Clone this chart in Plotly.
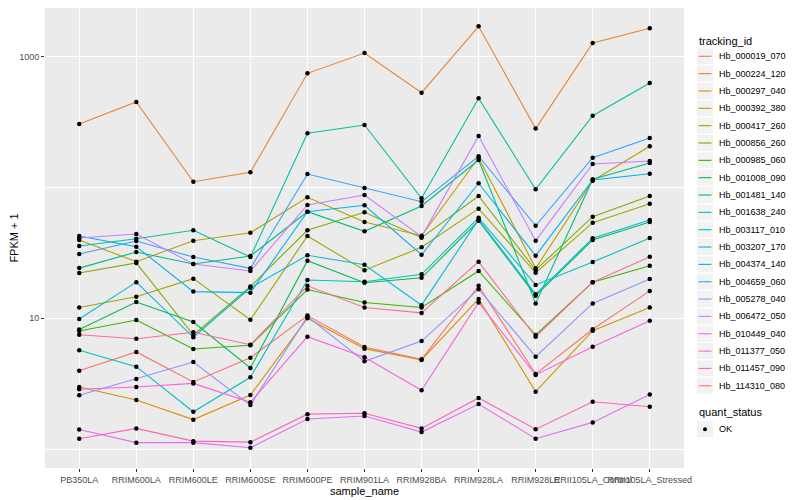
import plotly.graph_objects as go

samples = ["PB350LA", "RRIM600LA", "RRIM600LE", "RRIM600SE", "RRIM600PE", "RRIM901LA",
           "RRIM928BA", "RRIM928LA", "RRIM928LE", "RRII105LA_Control", "RRII105LA_Stressed"]

tracking_ids = ["Hb_000019_070", "Hb_000224_120", "Hb_000297_040", "Hb_000392_380", "Hb_000417_260",
                "Hb_000856_260", "Hb_000985_060", "Hb_001008_090", "Hb_001481_140", "Hb_001638_240",
                "Hb_003117_010", "Hb_003207_170", "Hb_004374_140", "Hb_004659_060", "Hb_005278_040",
                "Hb_006472_050", "Hb_010449_040", "Hb_011377_050", "Hb_011457_090", "Hb_114310_080"]

colors = ["#F8766D", "#EA8331", "#D89000", "#C09B00", "#A3A500", "#7CAE00", "#39B600", "#00BB4E",
          "#00BF7D", "#00C1A3", "#00BFC4", "#00BAE0", "#00B0F6", "#35A2FF", "#9590FF", "#C77CFF",
          "#E76BF3", "#FA62DB", "#FF62BC", "#FF6C91"]

# FPKM + 1 values per tracking id (one value per sample)
Hb_000019_070 = [3.97, 5.53, 3.26, 5.00, 10.5, 6.04, 4.86, 17.7, 3.75, 8.24, 16.2]
Hb_000224_120 = [306, 451, 110.7, 130.7, 746, 1067, 531, 1706, 282, 1273, 1648]
Hb_000297_040 = [2.98, 2.37, 1.68, 2.59, 10.0, 5.86, 4.80, 14.05, 2.75, 8.04, 12.1]
Hb_000392_380 = [39.7, 27.1, 39.2, 45.1, 84.1, 54.5, 42.8, 169, 24.1, 112.7, 206.5]
Hb_000417_260 = [12.1, 14.6, 20.1, 9.75, 42.6, 23.3, 34.9, 68.9, 22.3, 53.8, 75.2]
Hb_000856_260 = [22.2, 26.5, 7.45, 17.5, 47.1, 64.6, 41.3, 86.1, 23.4, 59.8, 86.1]
Hb_000985_060 = [8.0, 9.7, 5.82, 6.22, 16.6, 13.2, 12.1, 23.0, 7.45, 18.9, 25.2]
Hb_001008_090 = [8.2, 13.3, 9.37, 4.17, 27.6, 18.7, 20.4, 55.7, 14.9, 39.7, 54.5]
Hb_001481_140 = [24.2, 32.1, 26.0, 29.9, 65.3, 46.2, 72.2, 162.3, 13.0, 115.5, 153.9]
Hb_001638_240 = [35.7, 40.6, 47.1, 29.4, 259.5, 300.6, 82.6, 480.8, 96.9, 354, 629.6]
Hb_003117_010 = [5.69, 4.27, 1.93, 3.54, 19.6, 19.05, 21.7, 58.7, 18.0, 26.9, 41.1]
Hb_003207_170 = [9.88, 18.9, 7.16, 17.1, 30.3, 25.7, 12.6, 57.1, 15.3, 40.9, 56.4]
Hb_004374_140 = [42.6, 35.3, 16.0, 15.7, 65.3, 73.1, 30.6, 107.7, 30.1, 114.1, 127.5]
Hb_004659_060 = [31.0, 39.0, 29.4, 24.1, 126.8, 99.1, 77.9, 173.3, 51.0, 169, 238.9]
Hb_005278_040 = [2.58, 3.44, 4.63, 2.17, 10.3, 4.69, 6.70, 16.7, 5.09, 13.0, 19.96]
Hb_006472_050 = [41.1, 44.1, 26.0, 23.0, 73.5, 87.6, 42.1, 247.6, 39.2, 151.3, 159.5]
Hb_010449_040 = [1.41, 1.12, 1.12, 1.025, 1.70, 1.79, 1.35, 2.21, 1.20, 1.60, 2.61]
Hb_011377_050 = [2.87, 2.98, 3.18, 2.28, 7.23, 5.03, 2.82, 13.2, 3.69, 6.07, 9.59]
Hb_011457_090 = [1.20, 1.44, 1.15, 1.13, 1.85, 1.88, 1.44, 2.46, 1.42, 2.30, 2.11]
Hb_114310_080 = [7.49, 6.98, 7.82, 6.28, 17.7, 12.1, 11.0, 27.1, 7.23, 18.9, 29.6]

series = [Hb_000019_070, Hb_000224_120, Hb_000297_040, Hb_000392_380, Hb_000417_260,
          Hb_000856_260, Hb_000985_060, Hb_001008_090, Hb_001481_140, Hb_001638_240,
          Hb_003117_010, Hb_003207_170, Hb_004374_140, Hb_004659_060, Hb_005278_040,
          Hb_006472_050, Hb_010449_040, Hb_011377_050, Hb_011457_090, Hb_114310_080]

quant_status = ["OK"]

y_ticks = [10, 1000]
y_minor = [1, 100]

FONT = "Liberation Sans, Arial, sans-serif"
W, H = 800, 500
OFF = 8  # page body margin of the html page
ML, MR, MT, MB = 37, 124, 0, 40
PW, PH = W - ML - MR, H - MT - MB


def px_x(px):
    # page pixel -> paper fraction
    return (px - OFF - ML) / PW


def px_y(py):
    return 1 - (py - OFF - MT) / PH


fig = go.Figure()
for name, vals, col in zip(tracking_ids, series, colors):
    fig.add_trace(go.Scatter(x=samples, y=vals, mode="lines", name=name,
                             line=dict(color=col, width=1.1), showlegend=False))

all_x = [s for vals in series for s in samples]
all_y = [v for vals in series for v in vals]
fig.add_trace(go.Scatter(x=all_x, y=all_y, mode="markers", name=quant_status[0],
                         marker=dict(color="black", size=4.5, symbol="circle"),
                         showlegend=False))

# ---- manual ggplot-style legends ----
shapes = []
annotations = []
KEY_X0, KEY_X1 = 697, 713
STEP = 17.34
Y0 = 56.3
annotations.append(dict(text="tracking_id", x=px_x(KEY_X0), y=px_y(40.7), xref="paper", yref="paper",
                        xanchor="left", yanchor="middle", showarrow=False,
                        font=dict(size=11, color="black", family=FONT)))
for i, (name, col) in enumerate(zip(tracking_ids, colors)):
    cy = Y0 + i * STEP
    shapes.append(dict(type="rect", xref="paper", yref="paper", x0=px_x(KEY_X0), x1=px_x(KEY_X1),
                       y0=px_y(cy - 8), y1=px_y(cy + 8), fillcolor="#F2F2F2", line=dict(width=0), layer="below"))
    shapes.append(dict(type="line", xref="paper", yref="paper", x0=px_x(KEY_X0 + 1.5), x1=px_x(KEY_X1 - 1.5),
                       y0=px_y(cy), y1=px_y(cy), line=dict(color=col, width=1.1)))
    annotations.append(dict(text=name, x=px_x(716.5), y=px_y(cy), xref="paper", yref="paper",
                            xanchor="left", yanchor="middle", showarrow=False,
                            font=dict(size=9, color="black", family=FONT)))

annotations.append(dict(text="quant_status", x=px_x(KEY_X0), y=px_y(412.3), xref="paper", yref="paper",
                        xanchor="left", yanchor="middle", showarrow=False,
                        font=dict(size=11, color="black", family=FONT)))
qy = 429.2
shapes.append(dict(type="rect", xref="paper", yref="paper", x0=px_x(KEY_X0), x1=px_x(KEY_X1),
                   y0=px_y(qy - 8), y1=px_y(qy + 8), fillcolor="#F2F2F2", line=dict(width=0), layer="below"))
shapes.append(dict(type="circle", xref="paper", yref="paper", x0=px_x(703), x1=px_x(707),
                   y0=px_y(qy - 2), y1=px_y(qy + 2), fillcolor="black", line=dict(width=0)))
annotations.append(dict(text=quant_status[0], x=px_x(716.5), y=px_y(qy), xref="paper", yref="paper",
                        xanchor="left", yanchor="middle", showarrow=False,
                        font=dict(size=9, color="black", family=FONT)))

fig.update_layout(
    width=W, height=H,
    margin=dict(l=ML, r=MR, t=MT, b=MB, autoexpand=False),
    paper_bgcolor="white", plot_bgcolor="#EBEBEB",
    font=dict(family=FONT, size=11, color="black"),
    showlegend=False,
    shapes=shapes, annotations=annotations,
    xaxis=dict(type="category", categoryorder="array", categoryarray=samples,
               range=[-0.6, 10.6], showgrid=True, gridcolor="white", gridwidth=1.1,
               ticks="outside", ticklen=3, tickcolor="#333333", tickangle=0,
               tickfont=dict(size=9, color="#4D4D4D", family=FONT),
               title=dict(text="sample_name", font=dict(size=11), standoff=0),
               zeroline=False, showline=False, automargin=False),
    yaxis=dict(type="log", range=[-0.1445, 3.3723], tickvals=y_ticks,
               ticktext=[str(v) for v in y_ticks],
               showgrid=True, gridcolor="white", gridwidth=1.1,
               minor=dict(tickvals=y_minor, showgrid=True, gridcolor="white", gridwidth=0.5, ticks=""),
               ticks="outside", ticklen=3, tickcolor="#333333",
               tickfont=dict(size=9, color="#4D4D4D", family=FONT),
               title=dict(text="FPKM + 1", font=dict(size=11), standoff=4),
               zeroline=False, showline=False, automargin=False),
)

fig.write_html("out.html")
